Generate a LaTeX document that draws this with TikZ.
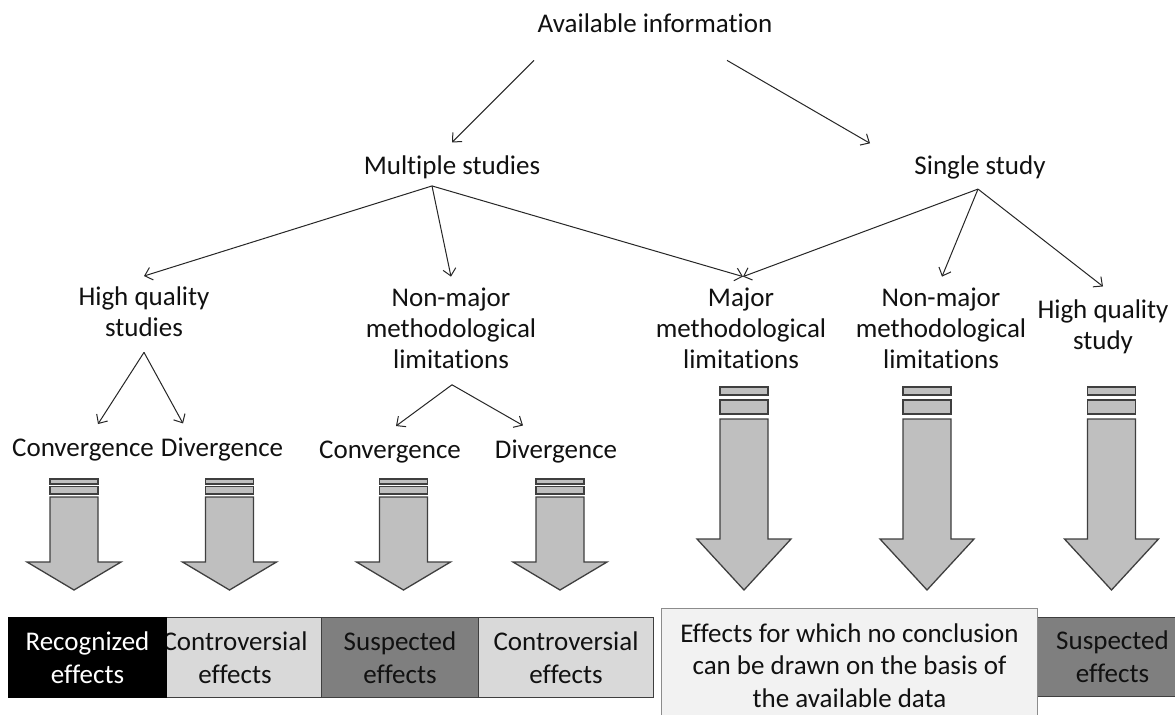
\documentclass[tikz,border=0pt]{standalone}
\usepackage{fontspec}
\setmainfont{Carlito}[Ligatures=NoCommon,RawFeature={-clig}]
\usetikzlibrary{arrows.meta}
\definecolor{arrfill}{HTML}{BFBFBF}
\definecolor{arrline}{HTML}{3F3F3F}
\definecolor{lightbox}{HTML}{D9D9D9}
\definecolor{darkbox}{HTML}{7F7F7F}
\definecolor{palebox}{HTML}{F2F2F2}
\definecolor{txt}{HTML}{111111}
\tikzset{
  lbl/.style={font=\fontsize{27bp}{31bp}\selectfont, align=center, inner sep=0pt, text=txt},
  edge/.style={draw=black!85, line width=1bp, -{Straight Barb[length=7bp,width=13bp]}},
  blockarr/.style={fill=arrfill, draw=arrline, line width=1.3bp, line join=miter},
  resbox/.style={anchor=north west, inner sep=0pt, draw=arrline, line width=1bp,
    font=\fontsize{27bp}{33bp}\selectfont, align=center, text=txt},
}
\newcommand{\blkarrow}[8]{%
  \filldraw[blockarr] (#1-24,#2) rectangle (#1+24,#3);
  \filldraw[blockarr] (#1-24,#4) rectangle (#1+24,#5);
  \filldraw[blockarr] (#1-24,#6) -- (#1+24,#6) -- (#1+24,#7) -- (#1+47,#7)
     -- (#1,#8) -- (#1-47,#7) -- (#1-24,#7) -- cycle;}
\begin{document}
\begin{tikzpicture}[x=1bp,y=-1bp]
\clip (0,0) rectangle (1175,715);
\fill[white] (0,0) rectangle (1175,715);

% labels
\node[lbl] (ai) at (655,23.7) {Available information};
\node[lbl] (ms) at (452,167.2) {Multiple studies};
\node[lbl] (ss) at (980,167.2) {Single study};
\node[lbl] (hqs) at (144,312.2) {High quality\\studies};
\node[lbl] (nm1) at (451,328.2) {Non-major\\methodological\\limitations};
\node[lbl] (mj) at (741,328.2) {Major\\methodological\\limitations};
\node[lbl] (nm2) at (941,328.2) {Non-major\\methodological\\limitations};
\node[lbl] (hq1) at (1103,326.7) {High quality\\study};
\node[lbl] (cv1) at (83,449.9) {Convergence};
\node[lbl] (dv1) at (222,449.9) {Divergence};
\node[lbl] (cv2) at (390,451.9) {Convergence};
\node[lbl] (dv2) at (556,451.9) {Divergence};

% connectors
\draw[edge] ([xshift=-121bp,yshift=-27bp]ai.south) -- ([yshift=13bp]ms.north);
\draw[edge] ([xshift=72bp,yshift=-27bp]ai.south) -- ([xshift=-110bp,yshift=12bp]ss.north);
\draw[edge] ([xshift=-20bp,yshift=-7bp]ms.south) -- ([yshift=11bp]hqs.north);
\draw[edge] ([xshift=-20bp,yshift=-7bp]ms.south) -- ([yshift=11bp]nm1.north);
\draw[edge] ([xshift=-20bp,yshift=-7bp]ms.south) -- ([xshift=2bp,yshift=11bp]mj.north);
\draw[edge] ([xshift=-2bp,yshift=-10bp]ss.south) -- ([xshift=2bp,yshift=11bp]mj.north);
\draw[edge] ([xshift=-2bp,yshift=-10bp]ss.south) -- ([xshift=1bp,yshift=11bp]nm2.north);
\draw[edge] ([xshift=-2bp,yshift=-10bp]ss.south) -- ([yshift=13bp]hq1.north);
\draw[edge] ([yshift=-15bp]hqs.south) -- ([xshift=15bp,yshift=14.6bp]cv1.north);
\draw[edge] ([yshift=-15bp]hqs.south) -- ([xshift=-39bp,yshift=14.6bp]dv1.north);
\draw[edge] ([xshift=1bp,yshift=-16bp]nm1.south) -- ([xshift=6bp,yshift=14.6bp]cv2.north);
\draw[edge] ([xshift=1bp,yshift=-16bp]nm1.south) -- ([xshift=-33bp,yshift=14.6bp]dv2.north);

% block arrows
\blkarrow{74}{479}{484}{486.5}{494}{497}{562}{590}
\blkarrow{229.5}{479}{484}{486.5}{494}{497}{562}{590}
\blkarrow{403.5}{479}{484}{486.5}{494}{497}{562}{590}
\blkarrow{560}{479}{484}{486.5}{494}{497}{562}{590}
\blkarrow{744}{387}{395}{400}{414}{419}{539}{590}
\blkarrow{927}{387}{395}{400}{414}{419}{539}{590}
\blkarrow{1111.5}{387}{395}{400}{414}{419}{539}{590}

% result boxes
\node[resbox, fill=lightbox, minimum width=173bp, minimum height=80bp] (c1) at (148,617) {Controversial\\effects};
\node[resbox, fill=black, draw=black, text=white, minimum width=158bp, minimum height=80bp] (rec) at (8,617) {Recognized\\effects};
\node[resbox, fill=darkbox, minimum width=157bp, minimum height=80bp] (s1) at (321,617) {Suspected\\effects};
\node[resbox, fill=lightbox, minimum width=175bp, minimum height=80bp] (c2) at (478,617) {Controversial\\effects};
\node[resbox, fill=darkbox, minimum width=150bp, minimum height=79bp] (s2) at (1037,617) {Suspected\\effects};
\node[resbox, fill=palebox, draw=black!45, minimum width=376bp, minimum height=114bp,
  font=\fontsize{27bp}{32.5bp}\selectfont] (eff) at (661,608)
  {Effects for which no conclusion\\can be drawn on the basis of\\the available data};
\end{tikzpicture}
\end{document}
